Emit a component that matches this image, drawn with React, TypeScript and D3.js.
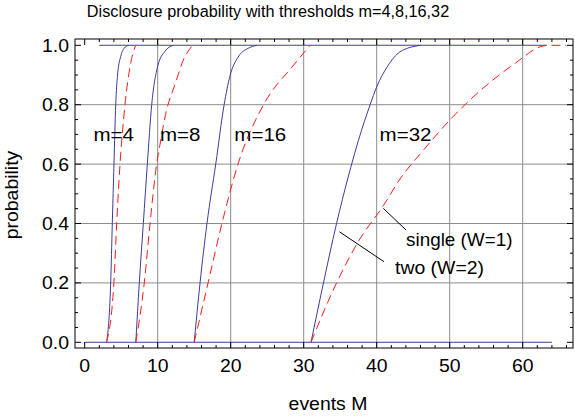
import React from "react";
import * as d3 from "d3";

const title = "Disclosure probability with thresholds m=4,8,16,32";
const xTicks = [0, 10, 20, 30, 40, 50, 60];
const yTicks = [0.0, 0.2, 0.4, 0.6, 0.8, 1.0];
const xGrid = [10, 20, 30, 40, 50, 60];
const yGrid = [0.2, 0.4, 0.6, 0.8];

// single (W=1), solid blue
const single4: [number, number][] = [[3, 0], [3.56, 0.2], [3.78, 0.4], [4.01, 0.6], [4.25, 0.8], [4.5, 0.9], [4.93, 0.962], [5.4, 0.99], [6, 1]];
const single8: [number, number][] = [[7, 0], [7.48, 0.2], [8.03, 0.4], [8.58, 0.6], [9.18, 0.8], [10.0, 0.93], [11, 0.98], [12.1, 1]];
const single16: [number, number][] = [[15, 0], [15.8, 0.2], [16.75, 0.4], [17.95, 0.6], [19.1, 0.8], [19.9, 0.897], [21.0, 0.96], [22.4, 0.99], [23.6, 1]];
const single32: [number, number][] = [[31, 0], [32.5, 0.176], [34.5, 0.4], [36.1, 0.557], [37.5, 0.68], [39.1, 0.8], [40, 0.86], [41.5, 0.93], [43.2, 0.978], [46, 1]];

// two (W=2), dashed red
const two4: [number, number][] = [[3, 0], [4.0, 0.2], [4.38, 0.4], [4.84, 0.6], [5.52, 0.8], [6.3, 0.94], [6.98, 1]];
const two8: [number, number][] = [[7, 0], [8.16, 0.2], [8.95, 0.4], [9.86, 0.6], [10.3, 0.664], [11.2, 0.78], [12.4, 0.87], [13.5, 0.95], [14.8, 1]];
const two16: [number, number][] = [[15, 0], [16.9, 0.2], [18.8, 0.4], [21.0, 0.6], [24.5, 0.8], [28.5, 0.93], [30.9, 1]];
const two32: [number, number][] = [[31, 0], [34.5, 0.2], [37.5, 0.34], [40.9, 0.46], [43.2, 0.55], [46.5, 0.65], [50, 0.748], [55.9, 0.883], [59, 0.94], [62.4, 0.995], [63.5, 1], [66, 1]];

const floorLine: [number, number][] = [[0, 0], [64, 0]];
const ceilLine: [number, number][] = [[2, 1], [63.3, 1]];

const mLabels = [
  { t: "m=4", x: 1.2 },
  { t: "m=8", x: 10.3 },
  { t: "m=16", x: 20.5 },
  { t: "m=32", x: 40.4 },
];

const font = "Liberation Sans, Arial, sans-serif";

function SText(props: { x: number; y: number; sx?: number; size?: number; anchor?: string; rotate?: number; children: React.ReactNode }) {
  const { x, y, sx = 1.08, size = 18, anchor = "start", rotate = 0 } = props;
  return (
    <text
      transform={`translate(${x},${y}) rotate(${rotate}) scale(${sx},1)`}
      fontSize={size}
      textAnchor={anchor as any}
      fill="#000"
      fontFamily={font}
    >
      {props.children}
    </text>
  );
}

export default function App() {
  const W = 575, H = 419;
  const left = 75, right = 573, top = 39, bottom = 348;
  const x = d3.scaleLinear().domain([0, 10]).range([84.7, 157.7]);
  const y = d3.scaleLinear().domain([0, 1]).range([342.3, 45.3]);
  const line = d3.line<[number, number]>().x(d => x(d[0])).y(d => y(d[1])).curve(d3.curveMonotoneX);
  const flat = d3.line<[number, number]>().x(d => x(d[0])).y(d => y(d[1]));
  const blue = "#3c3ca0";
  const red = "#ff1a1a";

  const xMinor: number[] = [];
  for (let v = 0; v <= 66; v += 2) xMinor.push(v);
  const yMinor: number[] = [];
  for (let i = 0; i <= 20; i++) yMinor.push(i * 0.05);

  return (
    <svg width={W} height={H} style={{ position: "absolute", left: 0, top: 0 }} fontFamily={font}>
      <rect width={W} height={H} fill="#fff" />
      <SText x={268} y={17} size={16.5} sx={0.985} anchor="middle">{title}</SText>
      {xGrid.map(v => (
        <line key={"gx" + v} x1={x(v)} x2={x(v)} y1={top} y2={bottom} stroke="#8c8c8c" strokeWidth={1} />
      ))}
      {yGrid.map(v => (
        <line key={"gy" + v} x1={left} x2={right} y1={y(v)} y2={y(v)} stroke="#8c8c8c" strokeWidth={1} />
      ))}
      <path d={flat(floorLine)!} fill="none" stroke={blue} strokeWidth={1.1} />
      <path d={flat(ceilLine)!} fill="none" stroke={blue} strokeWidth={1.1} />
      {[single4, single8, single16, single32].map((s, i) => (
        <path key={"s" + i} d={line(s)!} fill="none" stroke={blue} strokeWidth={1} />
      ))}
      {[two4, two8, two16, two32].map((s, i) => (
        <path key={"t" + i} d={line(s)!} fill="none" stroke={red} strokeWidth={1} strokeDasharray="9,5" />
      ))}
      <rect x={left} y={top} width={right - left} height={bottom - top} fill="none" stroke="#000" strokeWidth={1} />
      {xMinor.map(v => {
        const major = v % 10 === 0;
        const len = major ? 6 : 3;
        return (
          <g key={"xt" + v}>
            <line x1={x(v)} x2={x(v)} y1={bottom} y2={bottom - len} stroke="#000" />
            <line x1={x(v)} x2={x(v)} y1={top} y2={top + len} stroke="#000" />
          </g>
        );
      })}
      {yMinor.map((v, i) => {
        const major = i % 4 === 0;
        const len = major ? 6 : 3;
        return (
          <g key={"yt" + i}>
            <line x1={left} x2={left + len} y1={y(v)} y2={y(v)} stroke="#000" />
            <line x1={right} x2={right - len} y1={y(v)} y2={y(v)} stroke="#000" />
          </g>
        );
      })}
      {xTicks.map(v => (
        <SText key={"xl" + v} x={x(v)} y={372} anchor="middle">{v}</SText>
      ))}
      {yTicks.map(v => (
        <SText key={"yl" + v} x={69} y={y(v) + 6.5} anchor="end">{v.toFixed(1)}</SText>
      ))}
      <SText x={328} y={410} anchor="middle">events M</SText>
      <SText x={18} y={195} anchor="middle" rotate={-90}>probability</SText>
      {mLabels.map(l => (
        <SText key={l.t} x={x(l.x)} y={141} sx={1.14}>{l.t}</SText>
      ))}
      <line x1={383.3} y1={208.3} x2={406} y2={230} stroke="#000" />
      <line x1={339.3} y1={231.7} x2={384} y2={261.7} stroke="#000" />
      <SText x={406} y={246} sx={1.05}>single (W=1)</SText>
      <SText x={395} y={274} sx={1.08}>two (W=2)</SText>
    </svg>
  );
}
